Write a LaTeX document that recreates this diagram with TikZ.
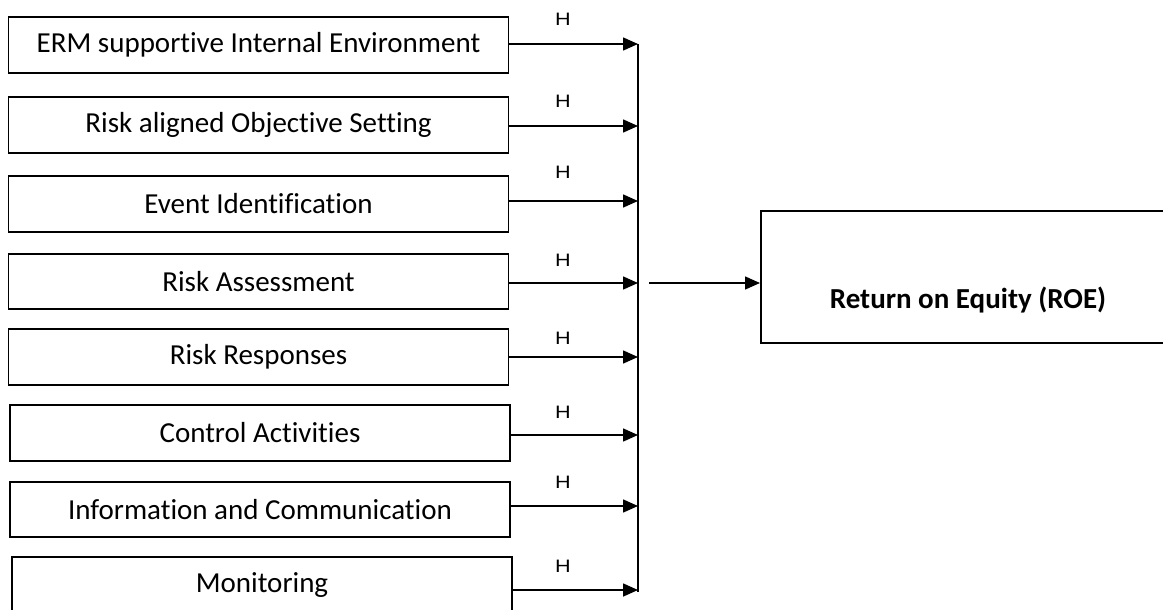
\documentclass[tikz,border=0pt]{standalone}
\usepackage{fontspec}
\setmainfont{Carlito}[Ligatures={NoCommon}]
\newfontfamily\hfont{Liberation Sans}
\usetikzlibrary{arrows.meta}
\begin{document}
\begin{tikzpicture}[x=1pt,y=-1pt,
  box/.style={draw=black,line width=1.5pt,minimum width=500pt,minimum height=56pt,inner sep=0pt,font=\fontsize{29}{32}\selectfont},
  arr/.style={line width=1.6pt,-{Triangle[length=15pt,width=13pt]}},
  hlab/.style={font=\hfont\fontsize{18}{20}\selectfont,inner sep=0pt}]
\clip (0,0) rectangle (1163,610);
\fill[white] (0,0) rectangle (1163,610);
\node[box] (b1) at (258.5,45) {ERM supportive Internal Environment};
\node[box] (b2) at (258.5,125) {Risk aligned Objective Setting};
\node[box] (b3) at (258.5,204) {Event Identification};
\node[box,minimum height=55pt] (b4) at (258.5,281.5) {Risk Assessment};
\node[box] (b5) at (258.5,357) {Risk Responses};
\node[box] (b6) at (260,433) {Control Activities};
\node[box,minimum height=55pt] (b7) at (260,509.5) {Information and Communication};
\node[box] (b8) at (262,585) {Monitoring};
\coordinate (vtop) at (638,44);
\coordinate (vbot) at (638,592);
\draw[line width=1.6pt] (vtop) -- (vbot);
\foreach \i/\y/\hy in {1/44/19,2/126/101,3/201/172,4/283/260,5/357/338,6/435/412,7/506/482,8/590/566}{
  \coordinate (e\i) at (b\i.east |- 0,\y);
  \draw[arr] (e\i) -- (e\i -| vtop);
  \node[hlab] (h\i) at (563,\hy) {\scalebox{1.2}[1]{H}};
}
\node[draw=black,line width=1.5pt,minimum width=420pt,minimum height=132pt,anchor=north west,inner sep=0pt] (roe) at (760,210) {};
\node[font=\bfseries\fontsize{29}{32}\selectfont] (roet) at (968,300) {Return on Equity (ROE)};
\coordinate (rs) at (649,283);
\draw[arr] (rs) -- (rs -| roe.west);
\end{tikzpicture}
\end{document}
